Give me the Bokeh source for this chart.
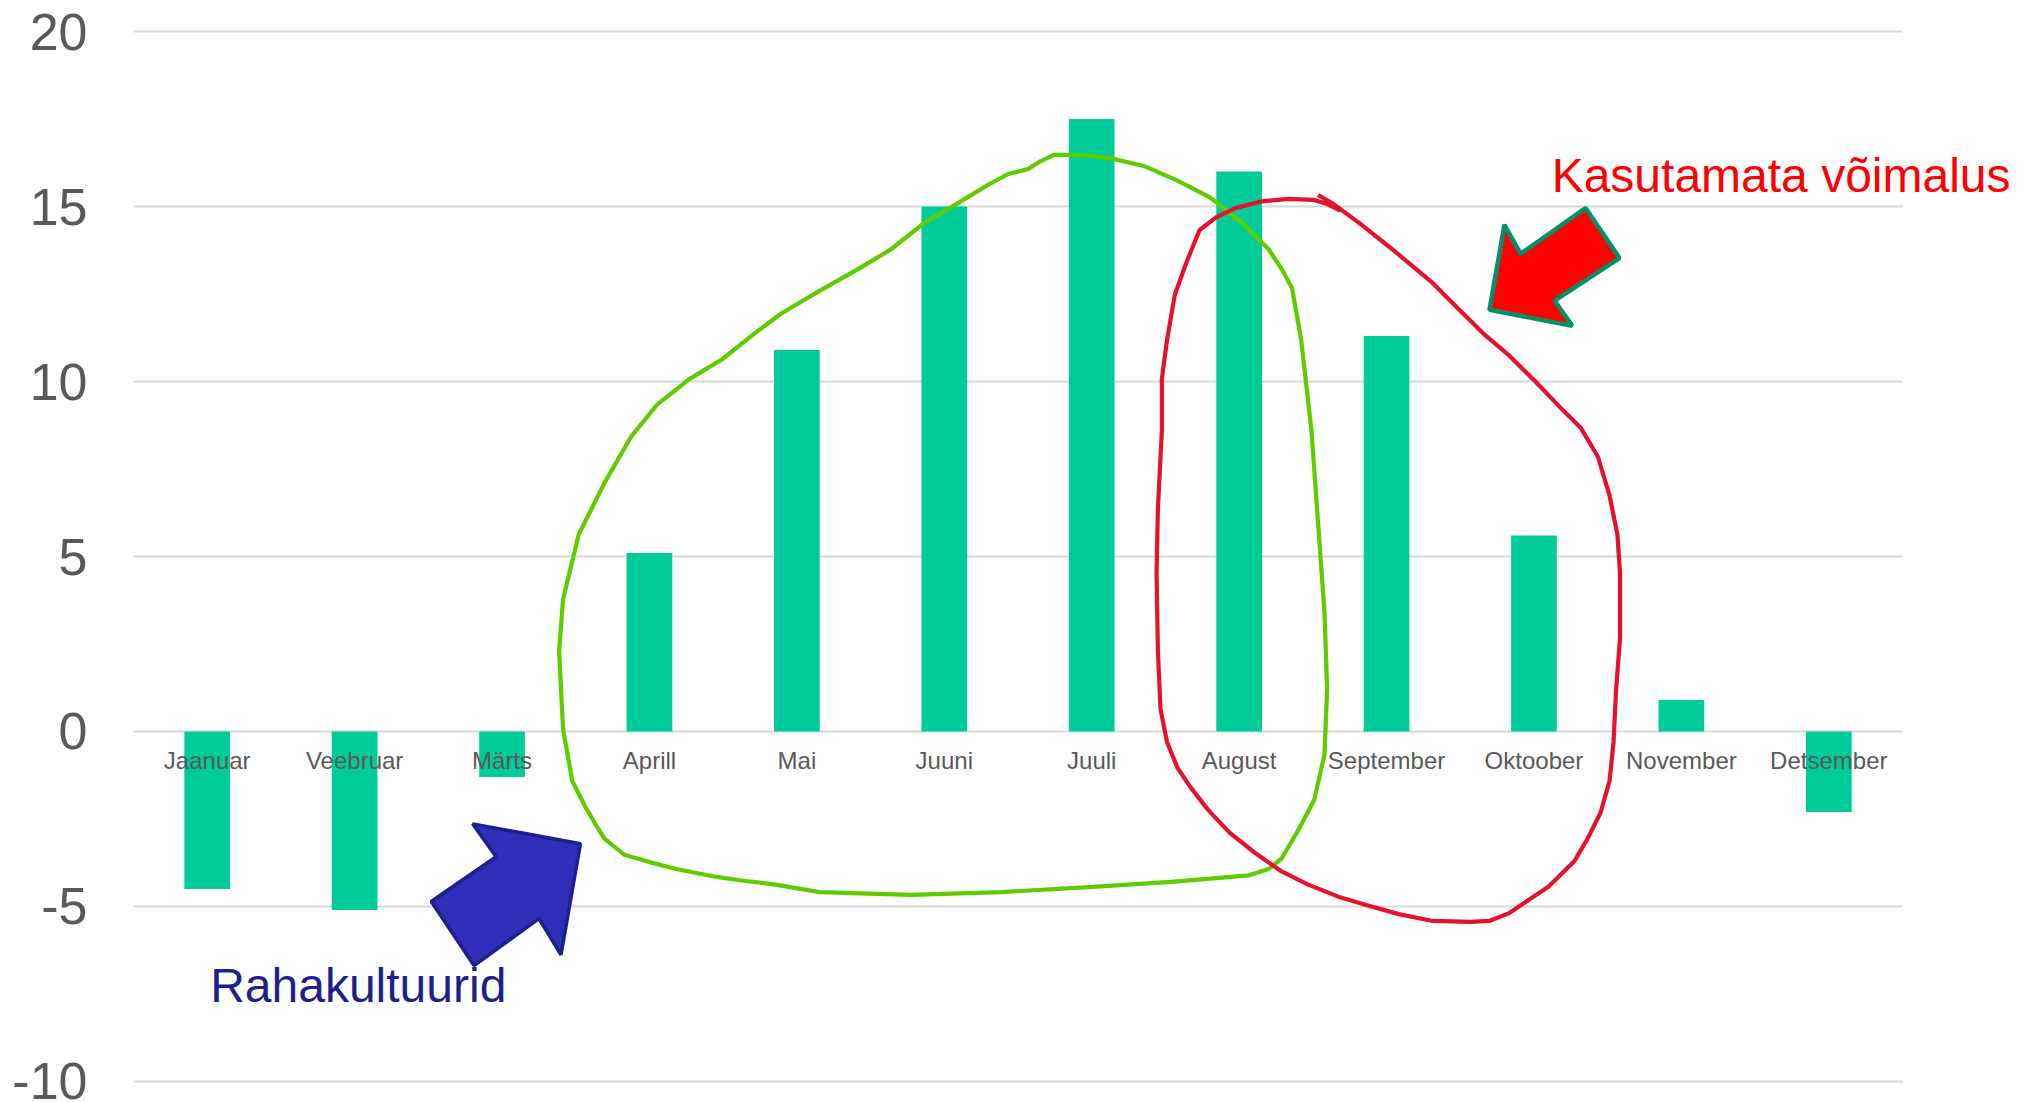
from bokeh.plotting import figure
from bokeh.models import Range1d, FixedTicker, Label, ColumnDataSource
from bokeh.core.properties import value
from bokeh.embed import file_html
from bokeh.resources import INLINE

# ---- data ----
months = ["Jaanuar", "Veebruar", "Märts", "Aprill", "Mai", "Juuni",
          "Juuli", "August", "September", "Oktoober", "November", "Detsember"]
values = [-4.5, -5.1, -1.3, 5.1, 10.9, 15.0, 17.5, 16.0, 11.3, 5.6, 0.9, -2.3]
y_ticks = [-10, -5, 0, 5, 10, 15, 20]
y_tick_labels = {t: str(t) for t in y_ticks}

# ---- hand-drawn annotation shapes (x in month slots, y in chart units) ----
green_x = [3.152, 3.064, 2.976, 2.914, 2.887, 2.914, 3.020, 3.196, 3.373, 3.550, 3.770, 3.991,
           4.212, 4.389, 4.653, 4.918, 5.139, 5.360, 5.581, 5.801, 5.934, 6.066, 6.155, 6.243,
           6.419, 6.640, 6.861, 7.082, 7.302, 7.523, 7.700, 7.788, 7.859, 7.921, 7.991, 8.035,
           8.079, 8.097, 8.079, 8.009, 7.903, 7.788, 7.700, 7.567, 7.038, 6.508, 5.890, 5.272,
           4.653, 4.344, 4.124, 3.947, 3.682, 3.506, 3.329, 3.196, 3.152]
green_y = [-2.78, -2.15, -1.41, 0.07, 2.30, 3.78, 5.63, 7.11, 8.41, 9.33, 10.07, 10.63,
           11.37, 11.93, 12.59, 13.22, 13.78, 14.52, 15.07, 15.63, 15.93, 16.07, 16.30, 16.48,
           16.48, 16.37, 16.15, 15.74, 15.26, 14.52, 13.78, 13.22, 12.67, 11.19, 8.59, 6.00,
           3.41, 1.19, -0.67, -1.96, -2.81, -3.63, -3.93, -4.11, -4.30, -4.44, -4.59, -4.67,
           -4.59, -4.37, -4.26, -4.15, -3.93, -3.74, -3.52, -3.07, -2.78]

red_x = [8.035, 8.141, 8.318, 8.539, 8.804, 8.980, 9.157, 9.333, 9.510, 9.687, 9.819, 9.934,
         10.013, 10.066, 10.084, 10.084, 10.057, 10.040, 10.013, 9.951, 9.863, 9.775, 9.598,
         9.466, 9.333, 9.201, 9.068, 8.804, 8.583, 8.362, 8.185, 7.965, 7.788, 7.611, 7.435,
         7.285, 7.170, 7.082, 7.011, 6.967, 6.949, 6.940, 6.949, 6.976, 6.976, 7.011, 7.064,
         7.143, 7.232, 7.346, 7.479, 7.655, 7.832, 8.009, 8.097, 8.185]
red_y = [15.33, 15.07, 14.52, 13.78, 12.85, 12.11, 11.37, 10.74, 10.00, 9.22, 8.67, 7.85,
         6.74, 5.63, 4.52, 2.67, 1.19, -0.30, -1.41, -2.33, -3.07, -3.70, -4.44,
         -4.81, -5.19, -5.41, -5.44, -5.41, -5.22, -4.96, -4.74, -4.37, -4.00, -3.48, -2.89,
         -2.22, -1.59, -1.04, -0.30, 0.63, 2.30, 4.52, 6.37, 8.59, 10.07, 11.19, 12.48,
         13.41, 14.33, 14.70, 14.96, 15.15, 15.22, 15.19, 15.07, 14.89]

blue_arrow_x = [3.032, 2.30, 2.46, 2.02, 2.31, 2.75, 2.90]
blue_arrow_y = [-3.21, -2.64, -3.58, -4.86, -6.69, -5.35, -6.38]

red_arrow_x = [9.198, 9.30, 9.41, 9.85, 10.08, 9.64, 9.76]
red_arrow_y = [12.05, 14.48, 13.65, 14.96, 13.53, 12.31, 11.59]

# ---- figure ----
W, H = 2020, 1102
left, top = 133, 29
frame_h = 1054
frame_w = W - left            # frame runs to the right edge so the label is not clipped
grid_w = 1769                 # width used by the 12 month slots
x_end = len(months) * frame_w / grid_w

p = figure(width=W, height=H, output_backend="svg", toolbar_location=None,
           x_range=Range1d(0, x_end), y_range=Range1d(-10.06, 20.06),
           min_border_left=left, min_border_right=0, min_border_top=top,
           min_border_bottom=H - top - frame_h)
p.outline_line_color = None
p.background_fill_color = "white"
p.border_fill_color = "white"

p.xaxis.visible = False
p.xgrid.visible = False
p.ygrid.visible = False
yax = p.yaxis[0]
yax.ticker = FixedTicker(ticks=y_ticks)
yax.major_label_overrides = y_tick_labels
yax.axis_line_color = None
yax.major_tick_line_color = None
yax.minor_tick_line_color = None
yax.major_tick_out = 0
yax.major_tick_in = 0
yax.major_label_standoff = 46
yax.major_label_text_font = "Liberation Sans"
yax.major_label_text_font_size = "52px"
yax.major_label_text_color = "#595959"

# horizontal gridlines only across the month slots
p.segment(x0=0, x1=len(months), y0=y_ticks, y1=y_ticks,
          line_color="#d9d9d9", line_width=2)

xs = [i + 0.5 for i in range(len(months))]
src = ColumnDataSource(dict(x=xs, top=values, name=months))
p.vbar(x="x", top="top", bottom=0, width=0.31, source=src,
       fill_color="#00cc99", line_color=None)

p.text(x="x", y=0, text="name", source=src, text_font=value("Liberation Sans"),
       text_font_size="24px", text_color="#595959", text_align="center",
       text_baseline="alphabetic", y_offset=29)

p.line(green_x, green_y, line_color="#5fcc00", line_width=4.2)
p.line(red_x, red_y, line_color="#e8112d", line_width=4.2)

p.patch(blue_arrow_x, blue_arrow_y, fill_color="#2e2eb8", line_color="#1f1f8c",
        line_width=3.5)
p.patch(red_arrow_x, red_arrow_y, fill_color="#ff0000", line_color="#00906a",
        line_width=4.5)

p.add_layout(Label(x=0.52, y=-7.27, text="Rahakultuurid", text_font="Liberation Sans",
                   text_font_size="48px", text_color="#1f1f8c",
                   text_baseline="alphabetic"))
p.add_layout(Label(x=9.62, y=15.88, text="Kasutamata võimalus", text_font="Liberation Sans",
                   text_font_size="48px", text_color="#ff0000",
                   text_baseline="alphabetic"))

open("out.html", "w").write(file_html(p, INLINE))
